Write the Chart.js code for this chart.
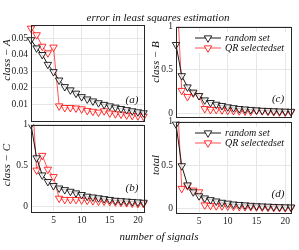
<!DOCTYPE html>
<html lang="en">
<head>
<meta charset="UTF-8">
<title>Error in least squares estimation</title>
<script src="https://cdn.jsdelivr.net/npm/chart.js"></script>
<style>
  body { margin: 0; background: #fff; }
  #wrap { position: relative; width: 299px; height: 250px; overflow: hidden; font-family: "Liberation Serif", serif; }
  canvas { position: absolute; left: 0; top: 0; }
  .txt { position: absolute; font-style: italic; font-size: 11px; white-space: nowrap; color: #111; line-height: 1; }
  .c { transform: translate(-50%, -50%); }
  .ylab { transform: translate(-50%, -50%) rotate(-90deg); }
</style>
</head>
<body>
<div id="wrap">
  <canvas id="pa" width="299" height="250"></canvas>
  <canvas id="pb" width="299" height="250"></canvas>
  <canvas id="pc" width="299" height="250"></canvas>
  <canvas id="pd" width="299" height="250"></canvas>

  <div class="txt c" style="left:158px; top:17px;">error in least squares estimation</div>
  <div class="txt ylab" style="left:6px; top:60px;">class − A</div>
  <div class="txt ylab" style="left:6px; top:165px;">class − C</div>
  <div class="txt ylab" style="left:155px; top:62px;">class − B</div>
  <div class="txt ylab" style="left:155px; top:165px;">total</div>
  <div class="txt c" style="left:132px; top:99px;">(a)</div>
  <div class="txt c" style="left:132px; top:187px;">(b)</div>
  <div class="txt c" style="left:278px; top:98px;">(c)</div>
  <div class="txt c" style="left:278px; top:193px;">(d)</div>
  <div class="txt c" style="left:159px; top:236px;">number of signals</div>
</div>

<script>
  // number of signals on the x axis
  const signals = [1, 2, 3, 4, 5, 6, 7, 8, 9, 10, 11, 12, 13, 14, 15, 16, 17, 18, 19, 20, 21];
  const xTicks = [5, 10, 15, 20];

  // class A
  const classARandom = [0.049, 0.044, 0.040, 0.034, 0.0296, 0.0245, 0.0205, 0.0185, 0.0165, 0.0144, 0.013,
    0.0118, 0.0107, 0.0097, 0.0088, 0.008, 0.0072, 0.0065, 0.0058, 0.0052, 0.0046];
  const classAQR = [0.056, 0.052, 0.045, 0.041, 0.0445, 0.0088, 0.0078, 0.0078, 0.0075, 0.007, 0.006,
    0.0055, 0.005, 0.0058, 0.0045, 0.004, 0.0038, 0.0033, 0.003, 0.0028, 0.0025];
  const classATicks = [0.01, 0.02, 0.03, 0.04, 0.05];

  // class B
  const classBRandom = [0.79, 0.43, 0.30, 0.24, 0.2, 0.15, 0.12, 0.1, 0.085, 0.07, 0.06,
    0.05, 0.045, 0.04, 0.035, 0.03, 0.028, 0.025, 0.022, 0.02, 0.018];
  const classBQR = [1.6, 0.26, 0.19, 0.23, 0.2, 0.05, 0.04, 0.04, 0.035, 0.03, 0.028,
    0.025, 0.022, 0.02, 0.03, 0.025, 0.018, 0.015, 0.012, 0.01, 0.01];

  // class C
  const classCRandom = [1.0, 0.59, 0.38, 0.3, 0.25, 0.22, 0.2, 0.18, 0.16, 0.14, 0.12,
    0.11, 0.1, 0.09, 0.08, 0.07, 0.065, 0.06, 0.055, 0.05, 0.045];
  const classCQR = [1.6, 0.44, 0.62, 0.45, 0.36, 0.095, 0.08, 0.08, 0.08, 0.075, 0.07,
    0.065, 0.06, 0.06, 0.055, 0.05, 0.045, 0.04, 0.035, 0.03, 0.03];

  // total
  const totalRandom = [0.97, 0.49, 0.27, 0.19, 0.145, 0.12, 0.1, 0.085, 0.07, 0.06, 0.05,
    0.045, 0.04, 0.035, 0.03, 0.028, 0.025, 0.022, 0.02, 0.018, 0.016];
  const totalQR = [1.6, 0.23, 0.26, 0.21, 0.19, 0.04, 0.035, 0.03, 0.03, 0.028, 0.025,
    0.022, 0.02, 0.02, 0.018, 0.015, 0.012, 0.01, 0.01, 0.008, 0.008];
  const unitTicks = [0, 0.5, 1];

  const seriesNames = ['random set', 'QR selectedset'];

  const YW = 30; // reserved width for y tick labels
  const XH = 14; // reserved height for x tick labels
  const tickFont = { family: '"Liberation Serif", serif', size: 9.5 };

  const boxPlugin = {
    id: 'box',
    afterDraw(chart) {
      const a = chart.chartArea, ctx = chart.ctx;
      ctx.save();
      ctx.strokeStyle = '#262626';
      ctx.lineWidth = 1;
      ctx.strokeRect(Math.round(a.left) + 0.5, Math.round(a.top) + 0.5,
        Math.round(a.right - a.left), Math.round(a.bottom - a.top));
      ctx.restore();
    }
  };

  function tri(ctx, x, y, r, stroke) {
    ctx.beginPath();
    ctx.moveTo(x - r * 0.87, y - r * 0.5);
    ctx.lineTo(x + r * 0.87, y - r * 0.5);
    ctx.lineTo(x, y + r);
    ctx.closePath();
    ctx.fillStyle = '#fff';
    ctx.fill();
    ctx.lineWidth = 0.9;
    ctx.strokeStyle = stroke;
    ctx.stroke();
  }

  const legendPlugin = {
    id: 'sideLegend',
    afterDraw(chart, args, opts) {
      if (!opts.show) return;
      const ctx = chart.ctx, a = chart.chartArea;
      const x0 = a.left + 19, y0 = a.top + 11.5;
      ctx.save();
      ctx.fillStyle = '#fff';
      ctx.fillRect(x0 - 3, y0 - 6, 96, 21);
      chart.data.datasets.forEach((ds, i) => {
        const y = y0 + i * 10;
        ctx.lineWidth = 1;
        ctx.strokeStyle = ds.borderColor;
        ctx.beginPath();
        ctx.moveTo(x0, y);
        ctx.lineTo(x0 + 26, y);
        ctx.stroke();
        tri(ctx, x0 + 13, y, 4.3, ds.pointBorderColor);
        ctx.fillStyle = '#111';
        ctx.font = 'italic 10px "Liberation Serif", serif';
        ctx.textBaseline = 'middle';
        ctx.fillText(ds.label, x0 + 30, y);
      });
      ctx.restore();
    }
  };

  function panel(id, box, yMin, yMax, yTicks, showX, randomVals, qrVals, showLegend) {
    const mk = (vals) => signals.map((s, i) => ({ x: s, y: vals[i] }));
    const common = {
      borderWidth: 1, pointStyle: 'triangle', rotation: 180, pointRadius: 4.3,
      pointBackgroundColor: 'rgba(255,255,255,0.75)', pointBorderWidth: 0.9,
      clip: { left: 6, right: 6, top: 0, bottom: 6 }
    };
    new Chart(document.getElementById(id), {
      type: 'line',
      data: {
        datasets: [
          Object.assign({ label: seriesNames[0], data: mk(randomVals),
            borderColor: '#1a1a1a', pointBorderColor: '#111' }, common),
          Object.assign({ label: seriesNames[1], data: mk(qrVals),
            borderColor: 'rgba(255,40,40,0.8)', pointBorderColor: '#ff1a1a' }, common)
        ]
      },
      options: {
        responsive: false,
        animation: false,
        events: [],
        layout: {
          autoPadding: false,
          padding: { left: box.l - YW, top: box.t, right: 299 - box.r, bottom: 250 - box.b - XH }
        },
        scales: {
          x: {
            type: 'linear', min: 1, max: 21,
            afterBuildTicks: s => { s.ticks = xTicks.map(v => ({ value: v })); },
            afterFit: s => { s.height = XH; },
            grid: { color: '#e6e6e6', lineWidth: 1, drawTicks: false },
            border: { display: false },
            ticks: { display: showX, padding: 4, color: '#222', maxRotation: 0, font: tickFont }
          },
          y: {
            type: 'linear', min: yMin, max: yMax,
            afterBuildTicks: s => { s.ticks = yTicks.map(v => ({ value: v })); },
            afterFit: s => { s.width = YW; },
            grid: { color: '#e6e6e6', lineWidth: 1, drawTicks: false },
            border: { display: false },
            ticks: { padding: 3, color: '#222', callback: v => String(v), font: tickFont }
          }
        },
        plugins: {
          legend: { display: false },
          tooltip: { enabled: false },
          sideLegend: { show: showLegend }
        }
      },
      plugins: [boxPlugin, legendPlugin]
    });
  }

  panel('pa', { l: 31, r: 143.5, t: 25, b: 120.5 }, 0, 0.058, classATicks, false, classARandom, classAQR, false);
  panel('pb', { l: 31, r: 143.5, t: 124.5, b: 211 }, -0.06, 1, unitTicks, true, classCRandom, classCQR, false);
  panel('pc', { l: 176, r: 291, t: 26.5, b: 116.5 }, -0.04, 1, unitTicks, false, classBRandom, classBQR, true);
  panel('pd', { l: 176, r: 291, t: 121.5, b: 212 }, -0.04, 1, unitTicks, true, totalRandom, totalQR, true);
</script>
</body>
</html>
